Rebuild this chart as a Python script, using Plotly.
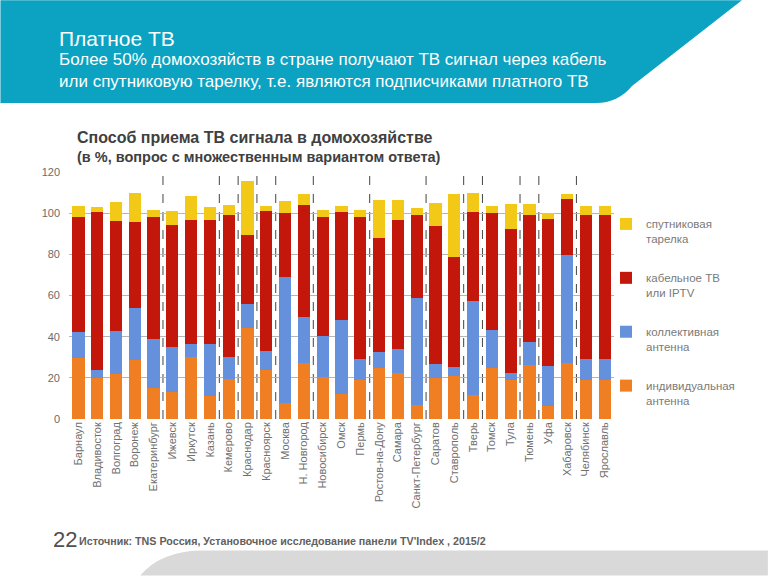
import plotly.graph_objects as go

cities = ["Барнаул", "Владивосток", "Волгоград", "Воронеж", "Екатеринбург", "Ижевск",
          "Иркутск", "Казань", "Кемерово", "Краснодар", "Красноярск", "Москва",
          "Н. Новгород", "Новосибирск", "Омск", "Пермь", "Ростов-на-Дону", "Самара",
          "Санкт-Петербург", "Саратов", "Ставрополь", "Тверь", "Томск", "Тула",
          "Тюмень", "Уфа", "Хабаровск", "Челябинск", "Ярославль"]

individual = [29.4, 20.0, 22.0, 28.8, 15.2, 13.1, 30.1, 11.0, 19.4, 44.3, 23.6, 7.6,
              27.3, 20.4, 12.3, 19.1, 24.6, 22.3, 6.6, 19.7, 21.0, 11.5, 24.8, 19.1,
              26.2, 6.1, 27.0, 19.1, 19.1]
collective = [12.7, 3.7, 20.6, 25.2, 23.8, 21.9, 6.3, 25.4, 10.7, 11.4, 9.4, 61.2,
              22.4, 20.1, 35.8, 9.9, 8.1, 11.5, 52.3, 6.8, 4.2, 45.6, 18.4, 3.2,
              11.0, 19.5, 52.6, 9.9, 9.9]
cable = [55.8, 77.0, 53.6, 41.6, 58.9, 59.2, 60.2, 60.5, 68.9, 33.5, 68.1, 31.2,
         54.3, 57.7, 52.7, 68.9, 55.3, 63.0, 40.3, 67.5, 53.4, 43.4, 56.8, 69.9,
         61.7, 71.8, 27.2, 69.9, 69.9]
satellite = [5.7, 2.3, 9.4, 14.3, 3.7, 6.8, 11.7, 6.2, 5.0, 26.2, 2.5, 5.7,
             5.1, 3.1, 2.8, 3.4, 18.6, 9.8, 3.2, 10.7, 30.8, 9.5, 3.6, 12.2,
             5.5, 2.9, 2.7, 4.7, 4.7]

series_names = ["индивидуальная<br>антенна", "коллективная<br>антенна",
                "кабельное ТВ<br>или IPTV", "спутниковая<br>тарелка"]
series_values = [individual, collective, cable, satellite]
series_colors = ["#EF7F22", "#6490DC", "#C3170C", "#F3C918"]
legend_ranks = [4, 3, 2, 1]

y_ticks = [0, 20, 40, 60, 80, 100, 120]
divider_positions = [4.5, 7.5, 8.5, 9.5, 10.5, 12.5, 15.5, 18.5, 20.5, 21.5, 23.5, 24.5, 26.5]

W, H = 768, 576
L, R, T, B = 68.6, 614.0, 172.0, 419.3


def X(px):
    return (px - L) / (R - L)


def Y(py):
    return (B - py) / (B - T)


fig = go.Figure()
for name, vals, col, rank in zip(series_names, series_values, series_colors, legend_ranks):
    fig.add_trace(go.Bar(x=cities, y=vals, name=name, marker_color=col,
                         marker_line_width=0, legendgroup=name, legendrank=rank))

shapes = []
# header band
shapes.append(dict(type="path", xref="paper", yref="paper", layer="below",
                   path=f"M {X(0)},{Y(0)} L {X(742)},{Y(0)} L {X(632)},{Y(86)} "
                        f"Q {X(618)},{Y(103)} {X(596)},{Y(103)} L {X(0)},{Y(103)} Z",
                   fillcolor="#0BA3C1", line_width=0))
# bottom grey band
shapes.append(dict(type="path", xref="paper", yref="paper", layer="below",
                   path=f"M {X(140)},{Y(576)} Q {X(160)},{Y(552)} {X(200)},{Y(551)} "
                        f"L {X(768)},{Y(551)} L {X(768)},{Y(576)} Z",
                   fillcolor="#D9D9D9", line_width=0))
for d in divider_positions:
    shapes.append(dict(type="line", xref="x", yref="paper", x0=d, x1=d, y0=0, y1=1,
                       layer="below", line=dict(color="#444444", width=1, dash="dash")))

annotations = [
    dict(text="Платное ТВ", x=X(57), y=Y(38), xref="paper", yref="paper",
         xanchor="left", yanchor="middle", showarrow=False,
         font=dict(family="Liberation Sans", size=21, color="white")),
    dict(text="Более 50% домохозяйств в стране получают ТВ сигнал через кабель<br>"
              "или спутниковую тарелку, т.е. являются подписчиками платного ТВ",
         x=X(57), y=Y(70), xref="paper", yref="paper", align="left",
         xanchor="left", yanchor="middle", showarrow=False,
         font=dict(family="Liberation Sans", size=17, color="white")),
    dict(text="<b>Способ приема ТВ сигнала в домохозяйстве</b>", x=X(75), y=Y(137),
         xref="paper", yref="paper", xanchor="left", yanchor="middle", showarrow=False,
         font=dict(family="Liberation Sans", size=16, color="#404040")),
    dict(text="<b>(в %, вопрос с множественным вариантом ответа)</b>", x=X(75), y=Y(157),
         xref="paper", yref="paper", xanchor="left", yanchor="middle", showarrow=False,
         font=dict(family="Liberation Sans", size=14.5, color="#404040")),
    dict(text="22", x=X(51), y=Y(540), xref="paper", yref="paper",
         xanchor="left", yanchor="middle", showarrow=False,
         font=dict(family="Liberation Sans", size=22, color="#505050")),
    dict(text="<b>Источник: TNS Россия, Установочное исследование панели TV'Index , 2015/2</b>",
         x=X(77), y=Y(541), xref="paper", yref="paper",
         xanchor="left", yanchor="middle", showarrow=False,
         font=dict(family="Liberation Sans", size=10.7, color="#606060")),
]

fig.update_layout(
    width=W, height=H,
    margin=dict(l=L, r=W - R, t=T, b=H - B, autoexpand=False),
    barmode="stack", bargap=0.35,
    plot_bgcolor="white", paper_bgcolor="white",
    font=dict(family="Liberation Sans", color="#6b6b6b", size=11),
    shapes=shapes, annotations=annotations,
    legend=dict(x=X(606), y=Y(210), xanchor="left", yanchor="top",
                traceorder="grouped", tracegroupgap=21, valign="top",
                font=dict(size=11.5, color="#7a7a7a"), bgcolor="rgba(0,0,0,0)"),
    xaxis=dict(tickangle=-90, showgrid=False, showline=False, ticks="",
               tickfont=dict(size=11, color="#707070"), range=[-0.5, len(cities) - 0.5]),
    yaxis=dict(range=[0, 120], tickvals=y_ticks, showgrid=True, gridcolor="#b5b5b5",
               zeroline=False, showline=False, ticks="", ticklabelstandoff=8,
               tickfont=dict(size=11, color="#6b6b6b")),
)

fig.write_html("out.html", config={"displayModeBar": False},
               post_script="document.body.style.margin='0px';")
